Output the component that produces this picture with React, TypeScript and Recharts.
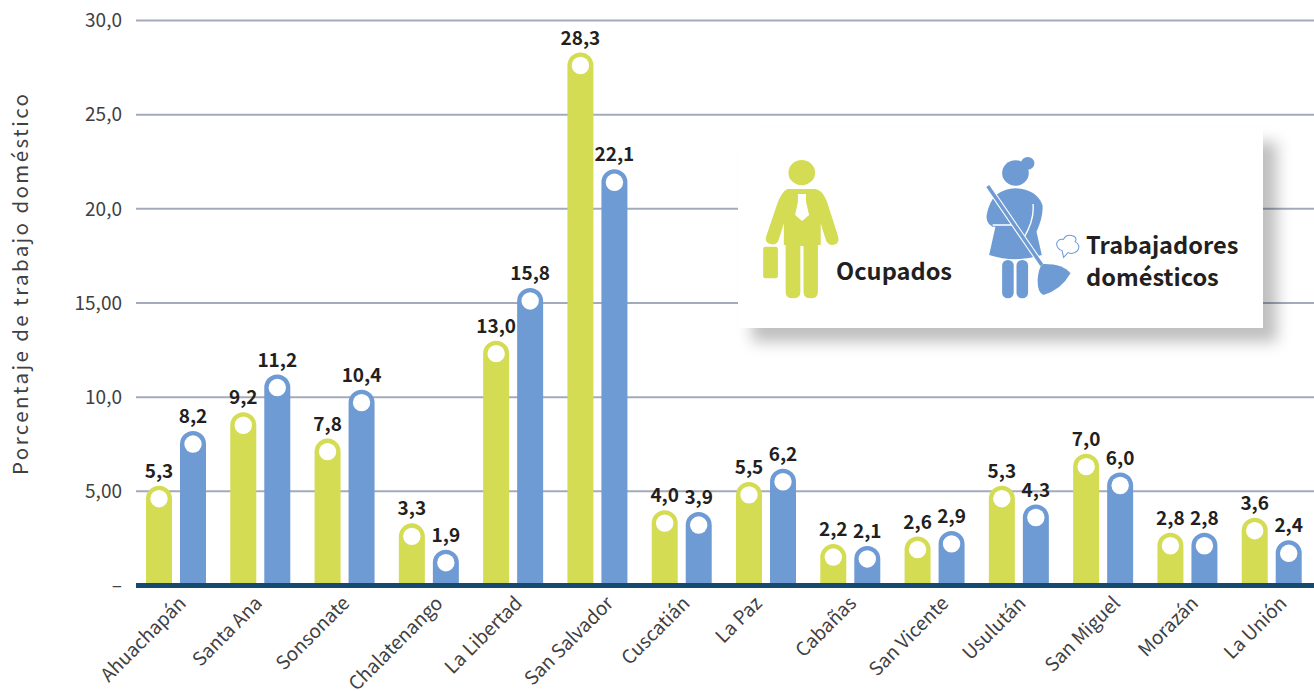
import React from 'react';
import { BarChart, Bar, XAxis, YAxis, CartesianGrid, LabelList } from 'recharts';

const departamentos = ['Ahuachapán', 'Santa Ana', 'Sonsonate', 'Chalatenango', 'La Libertad', 'San Salvador', 'Cuscatián', 'La Paz', 'Cabañas', 'San Vicente', 'Usulután', 'San Miguel', 'Morazán', 'La Unión'];
const ocupados = [5.3, 9.2, 7.8, 3.3, 13.0, 28.3, 4.0, 5.5, 2.2, 2.6, 5.3, 7.0, 2.8, 3.6];
const domesticos = [8.2, 11.2, 10.4, 1.9, 15.8, 22.1, 3.9, 6.2, 2.1, 2.9, 4.3, 6.0, 2.8, 2.4];
const yTicks = [0, 5, 10, 15, 20, 25, 30];
const yTickLabels = ['–', '5,00', '10,0', '15,00', '20,0', '25,0', '30,0'];

const data = departamentos.map((name, i) => ({ name, ocupados: ocupados[i], domesticos: domesticos[i] }));

// the rotated labels are not evenly placed in the original
const tickNudge = [11, 3, 6, 15, 10, 17, 9, -3, 7, 15, 8, 18, 12, 16];

const FONT = '"Noto Sans CJK SC", "Noto Sans", sans-serif';
const GREEN = '#d3dc52';
const BLUE = '#6e9bd3';
const INK = '#231f20';

const PillBar = (props: any) => {
  const { x, y, width, height, fill } = props;
  const r = width / 2;
  return (
    <g>
      <path d={`M${x} ${y + height} V${y + r} A${r} ${r} 0 0 1 ${x + width} ${y + r} V${y + height} Z`} fill={fill} />
      <circle cx={x + r} cy={y + r} r={8.7} fill="#fff" />
    </g>
  );
};

const RotatedTick = ({ x, y, payload, index }: any) => (
  <text
    transform={`translate(${x + tickNudge[index]} ${y + 11}) rotate(-45)`}
    textAnchor="end"
    fontFamily={FONT}
    fontSize={19}
    fill="#414042"
  >
    {payload.value}
  </text>
);

const formatValue = (v: number) => v.toFixed(1).replace('.', ',');

const Legend = () => (
  <svg width={1314} height={691} style={{ position: 'absolute', left: 0, top: 0, pointerEvents: 'none' }}>
    <g transform="translate(740 130) scale(0.3509 0.3333)">
      {/* hombre */}
      <g fill={GREEN}>
        <circle cx={176} cy={128} r={38} />
        <path d="M135 177 H215 Q235 180 248 215 L280 320 Q284 345 262 345 Q248 345 243 325 L230 280 V345 H222 V485 Q222 505 202 505 Q181 505 181 485 V348 H172 V485 Q172 505 151 505 Q130 505 130 485 V345 H125 V280 L110 330 Q105 345 90 343 Q68 338 75 318 L105 225 Q118 185 135 177 Z" />
        <rect x={66} y={350} width={42} height={95} rx={7} />
      </g>
      <path d="M165 192 H188 V215 L197 255 L177 273 L157 255 L165 215 Z" fill="#fff" />
      {/* trabajadora */}
      <g fill={BLUE}>
        <circle cx={785} cy={129} r={38} />
        <circle cx={820} cy={100} r={19} />
        <path d="M785 175 Q845 178 862 225 Q865 260 845 305 L860 375 Q785 400 710 375 L728 290 H720 Q700 280 703 255 Q710 215 730 195 Q755 175 785 175 Z" />
        <rect x={747} y={390} width={33} height={115} rx={16} />
        <rect x={788} y={390} width={33} height={115} rx={16} />
        <path d="M860 402 Q920 400 942 430 Q915 480 865 495 Q848 490 848 450 Q850 420 860 402 Z" />
      </g>
      <path d="M720 285 H778 M835 222 Q840 270 808 325" stroke="#fff" strokeWidth={4} fill="none" />
      <path d="M706 168 L860 405" stroke="#fff" strokeWidth={16} />
      <path d="M706 168 L860 405" stroke={BLUE} strokeWidth={10} />
      {/* polvo */}
      <path d="M922 382 L918 362 Q900 355 903 338 Q908 325 922 328 Q930 310 950 318 Q962 325 955 335 Q972 345 962 362 Q950 375 935 368 Z" fill="none" stroke={BLUE} strokeWidth={3} />
    </g>
    <g fontFamily={FONT} fontSize={23.6} fontWeight={700} fill={INK}>
      <text x={836} y={280}>Ocupados</text>
      <text x={1086} y={254}>Trabajadores</text>
      <text x={1086} y={286}>domésticos</text>
    </g>
  </svg>
);

export default function App() {
  return (
    <div style={{ position: 'absolute', left: 0, top: 0, width: 1314, height: 691, background: '#fff', overflow: 'hidden' }}>
      <BarChart
        width={1314}
        height={691}
        data={data}
        barSize={26}
        barGap={8}
        margin={{ top: 20.5, right: 0, bottom: 5.5, left: 0 }}
      >
        <CartesianGrid vertical={false} stroke="#a3abbb" strokeWidth={2} />
        <XAxis
          dataKey="name"
          height={100}
          interval={0}
          padding={{ left: -2, right: 0 }}
          axisLine={{ stroke: '#154a6e', strokeWidth: 5 }}
          tickLine={false}
          tick={<RotatedTick />}
        />
        <YAxis
          width={136}
          domain={[0, 30]}
          ticks={yTicks}
          interval={0}
          axisLine={false}
          tickLine={false}
          tickMargin={8}
          tickFormatter={(v: number) => yTickLabels[yTicks.indexOf(v)]}
          tick={{ fill: '#414042', fontSize: 19, fontFamily: FONT }}
          label={{
            value: 'Porcentaje de trabajo doméstico',
            angle: -90,
            position: 'insideLeft',
            dx: 16,
            dy: 172,
            style: { fill: '#414042', fontSize: 20.5, fontFamily: FONT, letterSpacing: 2.4 },
          }}
        />
        <Bar dataKey="ocupados" fill={GREEN} shape={<PillBar />} isAnimationActive={false}>
          <LabelList dataKey="ocupados" position="top" offset={8} formatter={formatValue} style={{ fill: INK, fontSize: 19, fontWeight: 700, fontFamily: FONT }} />
        </Bar>
        <Bar dataKey="domesticos" fill={BLUE} shape={<PillBar />} isAnimationActive={false}>
          <LabelList dataKey="domesticos" position="top" offset={8} formatter={formatValue} style={{ fill: INK, fontSize: 19, fontWeight: 700, fontFamily: FONT }} />
        </Bar>
      </BarChart>
      <div style={{ position: 'absolute', left: 738, top: 128, width: 525, height: 200, background: '#fff', boxShadow: '14px 14px 14px rgba(0,0,0,0.25)' }} />
      <Legend />
    </div>
  );
}
